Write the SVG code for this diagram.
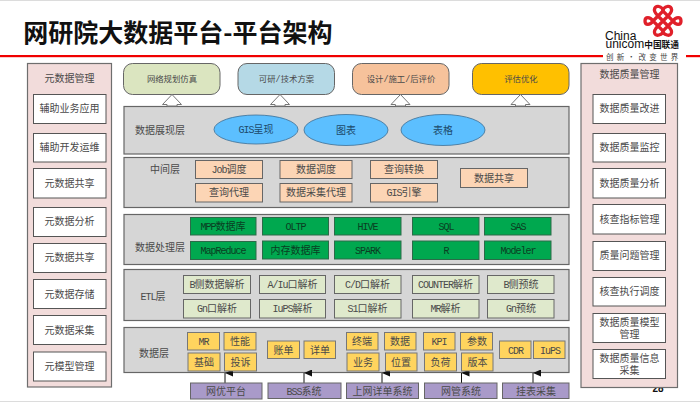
<svg xmlns="http://www.w3.org/2000/svg" width="700" height="402" viewBox="0 0 700 402">
<style>
text{font-family:"Liberation Mono","Noto Sans CJK SC","Noto Sans",monospace;font-size:10px;fill:#4a4a4a;text-anchor:middle}
.l{font-size:10px;letter-spacing:-1px;font-family:"Liberation Mono",monospace}
.s{font-size:8.4px}
.side{fill:#f2dcdb;stroke:#6e6e6e;stroke-width:1.2}
.w{fill:#fff;stroke:#555;stroke-width:1}
.layer{fill:#d6d6d6;stroke:#666;stroke-width:1.2}
.p{fill:#fcd5b5;stroke:#666;stroke-width:1}
.g{fill:#00a84f;stroke:#2c6a48;stroke-width:1}
.g + text{fill:#0a3d22}
.e{fill:#dfe9cc;stroke:#666;stroke-width:1}
.y{fill:#ffd45e;stroke:#777;stroke-width:1}
.v{fill:#a99ac9;stroke:#666;stroke-width:1}
.o{fill:#5cbfff;stroke:#3d6f94;stroke-width:.8}
.o + text{fill:#1d4a6b}
.t{stroke:#666;stroke-width:1}
.k{fill:none;stroke:#e0202a;stroke-width:3.3}
</style>
<defs>
<polygon id="up" points="0,0 9.5,10 5,10 5,11.500 -5,11.500 -5,10 -9.5,10" fill="#fff" stroke="#777" stroke-width="1"/>
<marker id="ah" markerWidth="7" markerHeight="8" refX="3.5" refY="0" orient="auto-start-reverse" markerUnits="userSpaceOnUse" viewBox="0 0 7 8"><polygon points="3.5,0 7,8 0,8" fill="#111" transform="rotate(0)"/></marker>
</defs>
<rect width="700" height="402" fill="#fff"/>
<rect width="700" height="1" fill="#dcdcdc"/>
<rect y="401" width="700" height="1" fill="#dcdcdc"/>
<text x="178" y="42" style="font-family:'Noto Sans CJK SC','Noto Sans',sans-serif;font-size:25px;font-weight:700;fill:#111" id="title">网研院大数据平台-平台架构</text>
<rect id="rule1" x="0" y="55" width="603" height="2.2" fill="#f00000"/>
<rect id="rule2" x="686" y="55" width="14" height="2.2" fill="#f00000"/>
<g id="logo">
<path class="k" d="M653 21 L663 11 L673 21 L663 31 Z M658 16 L668 26 M668 16 L658 26"/>
<path class="k" d="M658 16 C651 9 656 5.500 659 6.500 C661 7 663 9 663 11 C663 9 665 7 667 6.500 C670 5.500 675 9 668 16"/>
<path class="k" d="M658 26 C651 33 656 36 659 35 C661 34.500 663 33 663 31 C663 33 665 34.500 667 35 C670 36 675 33 668 26"/>
<path class="k" d="M653 21 C650 16.500 645 16.500 645 21 C645 25.500 650 25.500 653 21"/>
<path class="k" d="M673 21 C676 16.500 681 16.500 681 21 C681 25.500 676 25.500 673 21"/>
<text x="605" y="39.500" style="font-family:'Liberation Sans',sans-serif;font-size:12px;fill:#111;text-anchor:start">China</text>
<text x="605.500" y="48" style="font-family:'Liberation Sans',sans-serif;font-size:12px;fill:#111;text-anchor:start">unicom<tspan style="font-size:8.7px;font-family:'Noto Sans CJK SC',sans-serif;font-weight:700">中国联通</tspan></text>
<text x="606" y="59.500" style="font-family:'Noto Sans CJK SC',sans-serif;font-size:7.500px;fill:#444;text-anchor:start;letter-spacing:3.300px">创新·改变世界</text>
</g>
<text id="page" x="658" y="391.500" style="font-family:'Liberation Sans',sans-serif;font-size:10px;fill:#111;font-weight:700">28</text>

<g id="meta-panel"><rect class="side" x="27.500" y="63.500" width="84" height="323.500"/><text x="69.500" y="82">元数据管理</text></g>
<g id="m1"><rect class="w" x="33.500" y="94.500" width="72.500" height="29"/><text x="69.500" y="112">辅助业务应用</text></g>
<g id="m2"><rect class="w" x="33.500" y="133.500" width="72.500" height="28.500"/><text x="69.500" y="151">辅助开发运维</text></g>
<g id="m3"><rect class="w" x="33.500" y="168.500" width="72.500" height="29.500"/><text x="69.500" y="187">元数据共享</text></g>
<g id="m4"><rect class="w" x="33.500" y="207.500" width="72.500" height="29"/><text x="69.500" y="225">元数据分析</text></g>
<g id="m5"><rect class="w" x="33.500" y="243.500" width="72.500" height="29"/><text x="69.500" y="261">元数据共享</text></g>
<g id="m6"><rect class="w" x="33.500" y="279.500" width="72.500" height="29"/><text x="69.500" y="298">元数据存储</text></g>
<g id="m7"><rect class="w" x="33.500" y="315.500" width="72.500" height="29"/><text x="69.500" y="334">元数据采集</text></g>
<g id="m8"><rect class="w" x="33.500" y="352" width="72.500" height="29"/><text x="69.500" y="370">元模型管理</text></g>

<g id="quality-panel"><rect class="side" x="581" y="63.500" width="96.500" height="324"/><text x="629.500" y="78">数据质量管理</text></g>
<g id="q1"><rect class="w" x="593" y="94.500" width="72.500" height="29"/><text x="629.500" y="112">数据质量改进</text></g>
<g id="q2"><rect class="w" x="593" y="133.500" width="72.500" height="28.500"/><text x="629.500" y="151">数据质量监控</text></g>
<g id="q3"><rect class="w" x="593" y="168.500" width="72.500" height="29.500"/><text x="629.500" y="187">数据质量分析</text></g>
<g id="q4"><rect class="w" x="593" y="204.500" width="72.500" height="29.500"/><text x="629.500" y="223">核查指标管理</text></g>
<g id="q5"><rect class="w" x="593" y="241.500" width="72.500" height="29"/><text x="629.500" y="259">质量问题管理</text></g>
<g id="q6"><rect class="w" x="593" y="277.500" width="72.500" height="28.500"/><text x="629.500" y="295">核查执行调度</text></g>
<g id="q7"><rect class="w" x="593" y="313.500" width="72.500" height="29"/><text x="629.500" y="325.500">数据质量模型</text><text x="629.500" y="337.500">管理</text></g>
<g id="q8"><rect class="w" x="593" y="349.500" width="72.500" height="29"/><text x="629.500" y="361.500">数据质量信息</text><text x="629.500" y="374">采集</text></g>

<g id="top1"><rect class="t" x="123.500" y="63.500" width="96.500" height="31" rx="9" fill="#dbe5c0"/><text class="s" x="172" y="81.500">网络规划仿真</text></g>
<g id="top2"><rect class="t" x="238" y="63.500" width="96.500" height="31" rx="9" fill="#b5d9e6"/><text class="s" x="286.500" y="81.500">可研/技术方案</text></g>
<g id="top3"><rect class="t" x="352.500" y="63.500" width="96.500" height="31" rx="9" fill="#f6c29b"/><text class="s" x="401" y="81.500">设计/施工/后评价</text></g>
<g id="top4"><rect class="t" x="472.500" y="63.500" width="96.500" height="31" rx="9" fill="#ffc000"/><text class="s" x="521" y="81.500">评估优化</text></g>

<g id="layer-present"><rect class="layer" x="124" y="106.500" width="445" height="47.500"/><text x="160" y="134">数据展现层</text></g>
<g id="layer-middle"><rect class="layer" x="124" y="157.500" width="445" height="50"/><text x="165" y="173">中间层</text></g>
<g id="layer-process"><rect class="layer" x="124" y="214.500" width="445" height="50"/><text x="160" y="251">数据处理层</text></g>
<g id="layer-etl"><rect class="layer" x="124" y="269.500" width="445" height="51"/><text x="153" y="300"><tspan class="l">ETL</tspan>层</text></g>
<g id="layer-data"><rect class="layer" x="124" y="327.500" width="445" height="45"/><text x="154" y="357">数据层</text></g>

<g id="connectors">
<use href="#up" x="172" y="94.500"/><use href="#up" x="280" y="94.500"/><use href="#up" x="400.500" y="94.500"/><use href="#up" x="520.500" y="94.500"/>
<g stroke="#111" stroke-width="1">
<path d="M225 373V383" marker-start="url(#ah)"/>
<path d="M304 373V383" marker-start="url(#ah)"/>
<path d="M382 373V383" marker-start="url(#ah)"/>
<path d="M461.500 373V383" marker-start="url(#ah)"/>
<path d="M533 373V383" marker-start="url(#ah)"/>
</g>
</g>

<g id="o1"><ellipse class="o" cx="256" cy="129.500" rx="42" ry="14.500"/><text x="256" y="133"><tspan class="l">GIS</tspan>呈现</text></g>
<g id="o2"><ellipse class="o" cx="346" cy="130" rx="42" ry="15.500"/><text x="346" y="134">图表</text></g>
<g id="o3"><ellipse class="o" cx="443" cy="130" rx="42" ry="15.500"/><text x="443" y="134">表格</text></g>

<g id="p1"><rect class="p" x="195.500" y="160.500" width="67" height="18"/><text x="229" y="173"><tspan class="l">Job</tspan>调度</text></g>
<g id="p2"><rect class="p" x="280" y="160.500" width="72" height="18"/><text x="316" y="173">数据调度</text></g>
<g id="p3"><rect class="p" x="370.500" y="160.500" width="67" height="18"/><text x="404" y="173">查询转换</text></g>
<g id="p4"><rect class="p" x="195.500" y="183.500" width="67" height="18.500"/><text x="229" y="196">查询代理</text></g>
<g id="p5"><rect class="p" x="280" y="183.500" width="72" height="18.500"/><text x="316" y="196">数据采集代理</text></g>
<g id="p6"><rect class="p" x="370.500" y="183.500" width="67" height="18.500"/><text x="404" y="196"><tspan class="l">GIS</tspan>引擎</text></g>
<g id="p7"><rect class="p" x="460.500" y="168.500" width="67" height="19"/><text x="494" y="181.500">数据共享</text></g>

<g id="g1"><rect class="g" x="190.500" y="217.500" width="65.500" height="17.500"/><text x="223" y="230"><tspan class="l">MPP</tspan>数据库</text></g>
<g id="g2"><rect class="g" x="262.500" y="217.500" width="66" height="17.500"/><text x="295.500" y="230"><tspan class="l">OLTP</tspan></text></g>
<g id="g3"><rect class="g" x="334.500" y="217.500" width="66.500" height="17.500"/><text x="367.500" y="230"><tspan class="l">HIVE</tspan></text></g>
<g id="g4"><rect class="g" x="412.500" y="217.500" width="66.500" height="17.500"/><text x="446" y="230"><tspan class="l">SQL</tspan></text></g>
<g id="g5"><rect class="g" x="484.500" y="217.500" width="66.500" height="17.500"/><text x="518" y="230"><tspan class="l">SAS</tspan></text></g>
<g id="g6"><rect class="g" x="190.500" y="241.500" width="65.500" height="18"/><text x="223" y="254"><tspan class="l">MapReduce</tspan></text></g>
<g id="g7"><rect class="g" x="262.500" y="241" width="66" height="18"/><text x="295.500" y="253.500">内存数据库</text></g>
<g id="g8"><rect class="g" x="334.500" y="241" width="66.500" height="18"/><text x="367.500" y="253.500"><tspan class="l">SPARK</tspan></text></g>
<g id="g9"><rect class="g" x="412.500" y="241" width="66.500" height="18.500"/><text x="446" y="254"><tspan class="l">R</tspan></text></g>
<g id="g10"><rect class="g" x="484.500" y="241" width="66.500" height="18.500"/><text x="518" y="254"><tspan class="l">Modeler</tspan></text></g>

<g id="e1"><rect class="e" x="183.500" y="275.500" width="67" height="18"/><text x="217" y="288"><tspan class="l">B</tspan>侧数据解析</text></g>
<g id="e2"><rect class="e" x="259.500" y="275.500" width="66" height="18"/><text x="292.500" y="288"><tspan class="l">A/Iu</tspan>口解析</text></g>
<g id="e3"><rect class="e" x="334.500" y="275.500" width="66.500" height="18"/><text x="367.500" y="288"><tspan class="l">C/D</tspan>口解析</text></g>
<g id="e4"><rect class="e" x="412.500" y="275.500" width="66.500" height="18"/><text x="445.500" y="288"><tspan class="l">COUNTER</tspan>解析</text></g>
<g id="e5"><rect class="e" x="487.500" y="275.500" width="66.500" height="18"/><text x="521" y="288"><tspan class="l">B</tspan>侧预统</text></g>
<g id="e6"><rect class="e" x="183.500" y="299.500" width="67" height="18.500"/><text x="217" y="312"><tspan class="l">Gn</tspan>口解析</text></g>
<g id="e7"><rect class="e" x="259.500" y="299.500" width="66" height="18.500"/><text x="292.500" y="312"><tspan class="l">IuPS</tspan>解析</text></g>
<g id="e8"><rect class="e" x="334.500" y="299.500" width="66.500" height="18.500"/><text x="367.500" y="312"><tspan class="l">S1</tspan>口解析</text></g>
<g id="e9"><rect class="e" x="412.500" y="299.500" width="66.500" height="18.500"/><text x="445.500" y="312"><tspan class="l">MR</tspan>解析</text></g>
<g id="e10"><rect class="e" x="487.500" y="299.500" width="66.500" height="18.500"/><text x="521" y="312"><tspan class="l">Gn</tspan>预统</text></g>

<g id="d1"><rect class="y" x="187.500" y="332.500" width="32" height="17.500"/><text x="203.500" y="345"><tspan class="l">MR</tspan></text></g>
<g id="d2"><rect class="y" x="224" y="332.500" width="32" height="17.500"/><text x="240" y="345">性能</text></g>
<g id="d3"><rect class="y" x="188" y="353" width="32" height="18"/><text x="204" y="366">基础</text></g>
<g id="d4"><rect class="y" x="224.500" y="353" width="32" height="18"/><text x="240.500" y="366">投诉</text></g>
<g id="d5"><rect class="y" x="267.500" y="341" width="32" height="17.500"/><text x="283.500" y="354">账单</text></g>
<g id="d6"><rect class="y" x="304" y="341" width="31.500" height="17.500"/><text x="320" y="354">详单</text></g>
<g id="d7"><rect class="y" x="346.500" y="332.500" width="31.500" height="17.500"/><text x="362" y="345">终端</text></g>
<g id="d8"><rect class="y" x="384.500" y="332.500" width="31.500" height="17.500"/><text x="400" y="345">数据</text></g>
<g id="d9"><rect class="y" x="347" y="353" width="32" height="18"/><text x="363" y="366">业务</text></g>
<g id="d10"><rect class="y" x="385.500" y="353" width="31.500" height="18"/><text x="401" y="366">位置</text></g>
<g id="d11"><rect class="y" x="423.500" y="332.500" width="31.500" height="17.500"/><text x="439" y="345"><tspan class="l">KPI</tspan></text></g>
<g id="d12"><rect class="y" x="460.500" y="332.500" width="32" height="17.500"/><text x="477" y="345">参数</text></g>
<g id="d13"><rect class="y" x="424.500" y="353" width="32" height="18"/><text x="440.500" y="366">负荷</text></g>
<g id="d14"><rect class="y" x="461.500" y="353" width="31.500" height="18"/><text x="477.500" y="366">版本</text></g>
<g id="d15"><rect class="y" x="499.500" y="341" width="31.500" height="17.500"/><text x="515.500" y="353.500"><tspan class="l">CDR</tspan></text></g>
<g id="d16"><rect class="y" x="533.500" y="341" width="31.500" height="17.500"/><text x="550" y="353.500"><tspan class="l">IuPS</tspan></text></g>

<g id="s1"><rect class="v" x="190.500" y="383" width="71.500" height="16"/><text x="226" y="395">网优平台</text></g>
<g id="s2"><rect class="v" x="268" y="383" width="73" height="15.500"/><text x="304" y="394.500"><tspan class="l">BSS</tspan>系统</text></g>
<g id="s3"><rect class="v" x="346.500" y="383" width="72" height="15.500"/><text x="382.500" y="394.500">上网详单系统</text></g>
<g id="s4"><rect class="v" x="424.500" y="383" width="72.500" height="15.500"/><text x="461" y="394.500">网管系统</text></g>
<g id="s5"><rect class="v" x="502.500" y="383" width="66.500" height="15.500"/><text x="536" y="394.500">挂表采集</text></g>
</svg>
